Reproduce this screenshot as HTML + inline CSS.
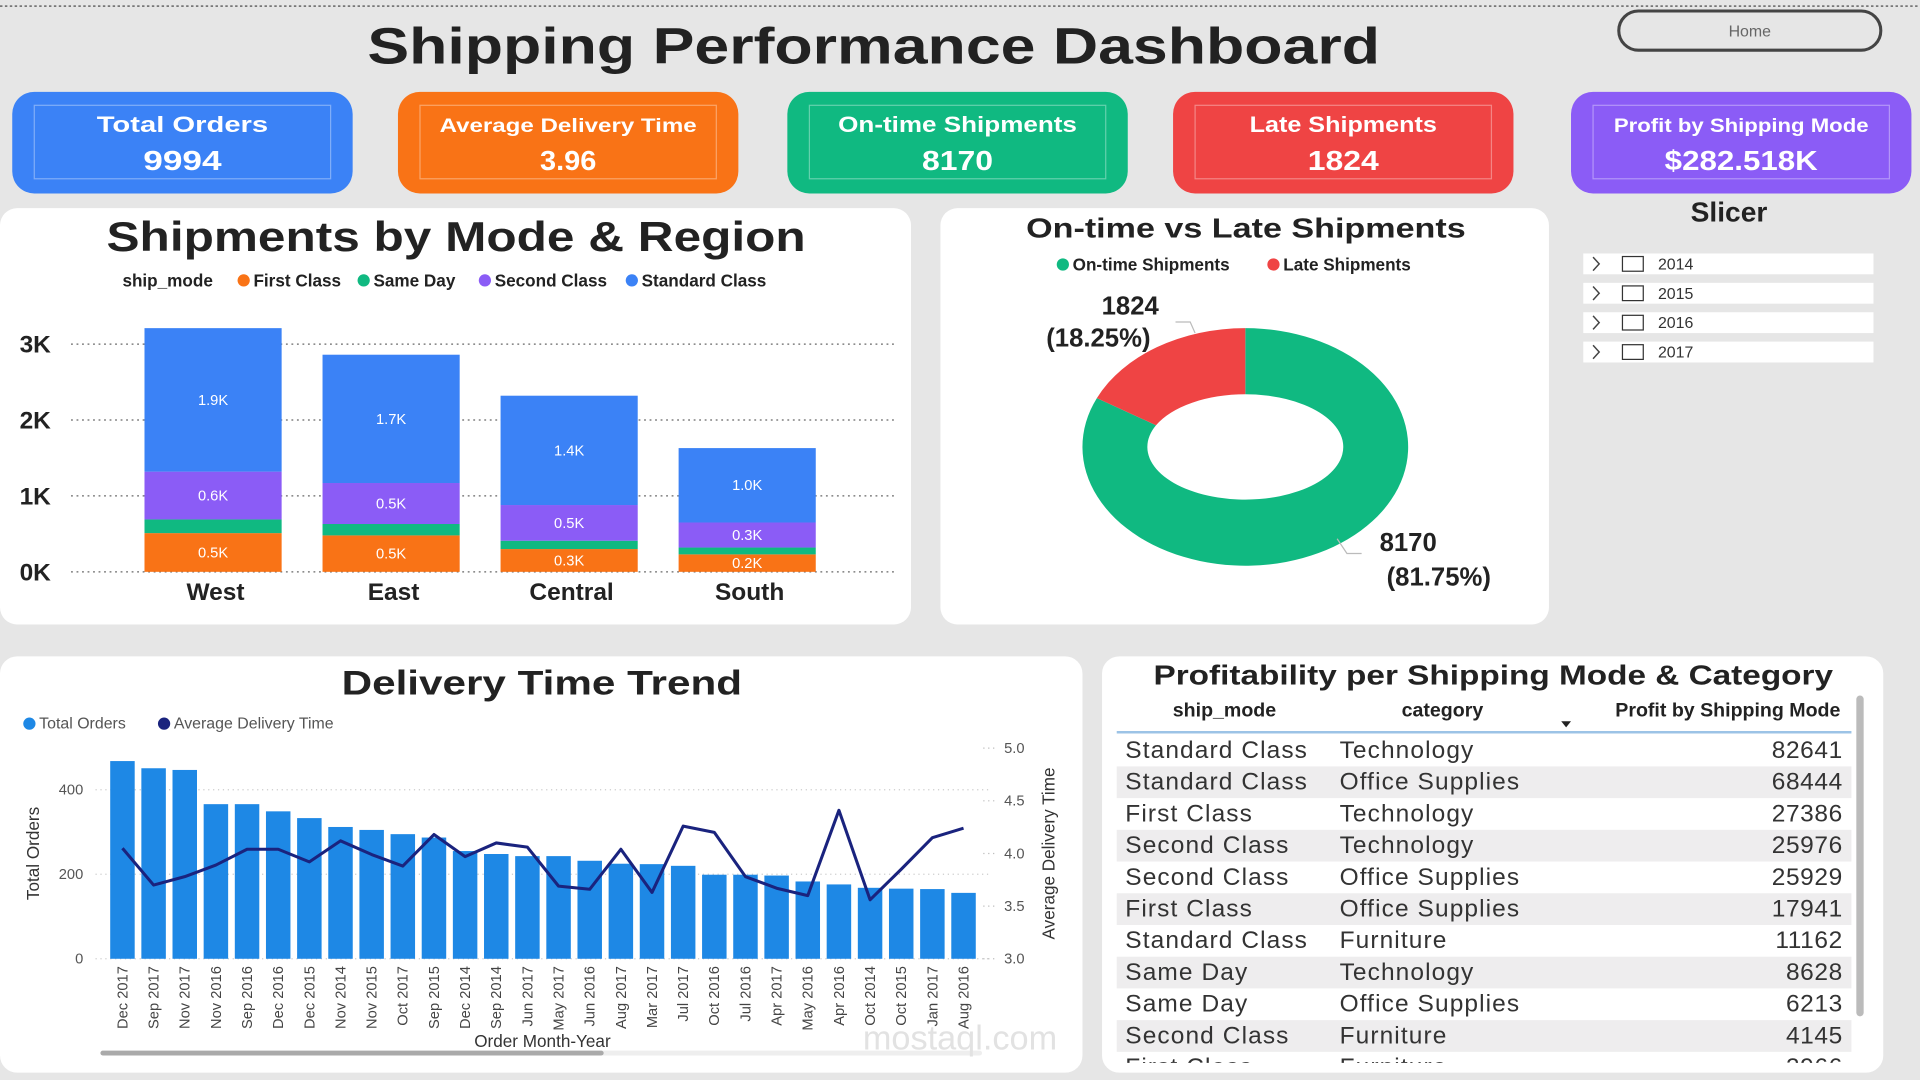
<!DOCTYPE html>
<html><head><meta charset="utf-8"><title>Shipping Performance Dashboard</title>
<style>
html,body{margin:0;padding:0;background:#e6e6e6;overflow:hidden}
svg{display:block;font-family:"Liberation Sans",sans-serif}
.b{font-weight:bold}
</style></head>
<body>
<svg id="root" width="1920" height="1080" viewBox="0 0 1568 882" xmlns="http://www.w3.org/2000/svg">
<rect x="0" y="0" width="1568" height="882" fill="#e6e6e6"/>
<line x1="0" y1="5" x2="1568" y2="5" stroke="#777" stroke-width="1.5" stroke-dasharray="2,2"/>
<text x="300" y="52" textLength="827" lengthAdjust="spacingAndGlyphs" font-size="42" font-weight="bold" fill="#222">Shipping Performance Dashboard</text>
<g>
<rect x="1322" y="9" width="214" height="32" rx="16" fill="none" stroke="#444" stroke-width="2.5"/>
<text x="1429" y="30" text-anchor="middle" font-size="13" fill="#666">Home</text>
</g>
<g id="kpis"></g>
<rect x="0" y="170" width="744" height="340" rx="14" fill="#fff"/>
<rect x="768" y="170" width="497" height="340" rx="14" fill="#fff"/>
<rect x="0" y="536" width="884" height="340" rx="14" fill="#fff"/>
<rect x="900" y="536" width="638" height="340" rx="14" fill="#fff"/>

<text x="87" y="205" textLength="571" lengthAdjust="spacingAndGlyphs" font-size="34" class="b" fill="#222">Shipments by Mode &amp; Region</text>
<g id="legend1" font-size="14" class="b" fill="#222">
<text x="100" y="234">ship_mode</text>
<circle cx="199" cy="229" r="5" fill="#f97316"/><text x="207" y="234">First Class</text>
<circle cx="297" cy="229" r="5" fill="#10b981"/><text x="305" y="234">Same Day</text>
<circle cx="396" cy="229" r="5" fill="#8b5cf6"/><text x="404" y="234">Second Class</text>
<circle cx="516" cy="229" r="5" fill="#3b82f6"/><text x="524" y="234">Standard Class</text>
</g>
<g id="bars1"></g>

<text x="838" y="194" textLength="359" lengthAdjust="spacingAndGlyphs" font-size="23" class="b" fill="#222">On-time vs Late Shipments</text>
<g font-size="14" class="b" fill="#222">
<circle cx="868" cy="216" r="5" fill="#10b981"/><text x="876" y="221">On-time Shipments</text>
<circle cx="1040" cy="216" r="5" fill="#ef4444"/><text x="1048" y="221">Late Shipments</text>
</g>
<g id="donut"></g>

<text x="1412" y="181" text-anchor="middle" font-size="23" class="b" fill="#222">Slicer</text>
<g id="slicer"></g>

<text x="279" y="567" textLength="327" lengthAdjust="spacingAndGlyphs" font-size="28" class="b" fill="#222">Delivery Time Trend</text>
<g font-size="13" fill="#555">
<circle cx="24" cy="591" r="5" fill="#1e88e5"/><text x="32" y="595">Total Orders</text>
<circle cx="134" cy="591" r="5" fill="#1a237e"/><text x="142" y="595">Average Delivery Time</text>
</g>
<g id="trend"></g>
<text x="443" y="855" text-anchor="middle" font-size="14" fill="#333">Order Month-Year</text>
<text transform="translate(32,697) rotate(-90)" text-anchor="middle" font-size="14" fill="#333">Total Orders</text>
<text transform="translate(861,697) rotate(-90)" text-anchor="middle" font-size="14" fill="#333">Average Delivery Time</text>
<rect x="82" y="858" width="720" height="4" rx="2" fill="#eee"/>
<rect x="82" y="858" width="411" height="4" rx="2" fill="#aaa"/>
<text x="784" y="857" text-anchor="middle" font-size="28" fill="#e2e2e2">mostaql.com</text>

<text x="942" y="559" textLength="555" lengthAdjust="spacingAndGlyphs" font-size="23" class="b" fill="#222">Profitability per Shipping Mode &amp; Category</text>
<g font-size="16" class="b" fill="#222">
<text x="1000" y="585" text-anchor="middle">ship_mode</text>
<text x="1178" y="585" text-anchor="middle">category</text>
<text x="1503" y="585" text-anchor="end">Profit by Shipping Mode</text>
<path d="M1275,589 l8,0 l-4,5z" fill="#222"/>
</g>
<line x1="912" y1="598" x2="1512" y2="598" stroke="#9cc3e6" stroke-width="2"/>
<g id="table"></g>
<rect x="1516" y="568" width="6" height="262" rx="3" fill="#bbb"/>
</svg>
<script>
var NS="http://www.w3.org/2000/svg";
function mk(p,tag,a,txt){var e=document.createElementNS(NS,tag);for(var k in a)e.setAttribute(k,a[k]);if(txt!=null)e.textContent=txt;p.appendChild(e);return e;}

var kpiLabels=["Total Orders","Average Delivery Time","On-time Shipments","Late Shipments","Profit by Shipping Mode"];
var kpiValues=["9994","3.96","8170","1824","$282.518K"];
var kpiColors=["#3b82f6","#f97316","#10b981","#ef4444","#8b5cf6"];
var kpiX=[10,325,643,958,1283];
var kpiLabelW=[140,210,195,153,208];
var kpiValueW=[64,46,58,58,125];
var kg=document.getElementById('kpis');
for(var i=0;i<5;i++){
  var g=mk(kg,'g',{});
  
  
  mk(g,'rect',{x:kpiX[i],y:75,width:278,height:83,rx:18,fill:kpiColors[i]});
  mk(g,'rect',{x:kpiX[i]+18,y:86,width:242,height:60,fill:'none',stroke:'rgba(255,255,255,0.35)','stroke-width':1});
  var fs=kpiLabels[i].length>18?16:18;
  mk(g,'text',{x:kpiX[i]+139-kpiLabelW[i]/2,y:108,textLength:kpiLabelW[i],lengthAdjust:'spacingAndGlyphs','font-size':fs,'font-weight':'bold',fill:'#fff'},kpiLabels[i]);
  mk(g,'text',{x:kpiX[i]+139-kpiValueW[i]/2,y:139,textLength:kpiValueW[i],lengthAdjust:'spacingAndGlyphs','font-size':23,'font-weight':'bold',fill:'#fff'},kpiValues[i]);
}

var regions=["West","East","Central","South"];
var firstClass=[0.51,0.48,0.30,0.23];
var sameDay=[0.18,0.15,0.11,0.09];
var secondClass=[0.63,0.54,0.47,0.33];
var standardClass=[1.89,1.69,1.44,0.98];
var yTicks1=[0,1,2,3];
var series1=[firstClass,sameDay,secondClass,standardClass];
var seriesNames1=["first-class","same-day","second-class","standard-class"];
var colors1=["#f97316","#10b981","#8b5cf6","#3b82f6"];
var showLabel1=[true,false,true,true];
function y1(v){return 467-v*62;}
function x1(i){return 174+i*145.4;}
var bg=document.getElementById('bars1');
yTicks1.forEach(function(t){
  var l=mk(bg,'line',{x1:58,x2:730,y1:y1(t),y2:y1(t),stroke:'#666','stroke-dasharray':'1.5,3','stroke-width':1});
  
  
  var tx=mk(bg,'text',{x:16,y:y1(t)+7,'font-size':20,'font-weight':'bold',fill:'#222'},t+'K');
  
  
});
regions.forEach(function(r,i){
  var base=0;
  series1.forEach(function(s,j){
    var v=s[i];
    var rc=mk(bg,'rect',{x:x1(i)-56,y:y1(base+v),width:112,height:v*62,fill:colors1[j]});
    
    
    if(showLabel1[j]){
      var lt=mk(bg,'text',{x:x1(i),y:y1(base+v/2)+4,'text-anchor':'middle','font-size':12,fill:'#fff'},v.toFixed(1)+'K');
      
      
    }
    base+=v;
  });
  var cl=mk(bg,'text',{x:x1(i)+2,y:490,'text-anchor':'middle','font-size':20,'font-weight':'bold',fill:'#222'},r);
  
  
});

var donutLabels=["On-time Shipments","Late Shipments"];
var donutValues=[8170,1824];
var donutColors=["#10b981","#ef4444"];
var dg=document.getElementById('donut');
var cx=1017,cy=365,RX=133,RY=97,rx0=80,ry0=43;
var total=donutValues[0]+donutValues[1];
function pt(a,rx,ry){return [cx+rx*Math.sin(a),cy-ry*Math.cos(a)];}
function arc(a0,a1){var p0=pt(a0,RX,RY),p1=pt(a1,RX,RY),q1=pt(a1,rx0,ry0),q0=pt(a0,rx0,ry0);var lg=(a1-a0)>Math.PI?1:0;
 return 'M'+p0+' A'+RX+','+RY+' 0 '+lg+' 1 '+p1+' L'+q1+' A'+rx0+','+ry0+' 0 '+lg+' 0 '+q0+' Z';}
var onA=donutValues[0]/total*2*Math.PI;
var s1=mk(dg,'path',{d:arc(0,onA),fill:donutColors[0]});


var s2=mk(dg,'path',{d:arc(onA,2*Math.PI),fill:donutColors[1]});


var pctLate=(donutValues[1]/total*100).toFixed(2), pctOn=(donutValues[0]/total*100).toFixed(2);
var t1=mk(dg,'text',{x:923,y:257,'text-anchor':'middle','font-size':21,'font-weight':'bold',fill:'#222'},String(donutValues[1]));


var t2=mk(dg,'text',{x:897,y:283,'text-anchor':'middle','font-size':21,'font-weight':'bold',fill:'#222'},'('+pctLate+'%)');


mk(dg,'path',{d:'M960,263 L972,263 L976,272',fill:'none',stroke:'#bbb'});
var t3=mk(dg,'text',{x:1150,y:450,'text-anchor':'middle','font-size':21,'font-weight':'bold',fill:'#222'},String(donutValues[0]));


var t4=mk(dg,'text',{x:1175,y:478,'text-anchor':'middle','font-size':21,'font-weight':'bold',fill:'#222'},'('+pctOn+'%)');


mk(dg,'path',{d:'M1092,440 L1100,452 L1112,452',fill:'none',stroke:'#bbb'});

var years=["2014","2015","2016","2017"];
var sg=document.getElementById('slicer');
years.forEach(function(y,i){
  var yy=207+i*24;
  var g=mk(sg,'g',{});
  
  
  mk(g,'rect',{x:1293,y:yy,width:237,height:17,fill:'#fff'});
  mk(g,'path',{d:'M1301,'+(yy+3)+' l5,5.5 l-5,5.5',fill:'none',stroke:'#444','stroke-width':1.2});
  mk(g,'rect',{x:1325,y:yy+2.5,width:17,height:12,fill:'#fff',stroke:'#333','stroke-width':1});
  mk(g,'text',{x:1354,y:yy+13,'font-size':13,fill:'#333'},y);
});

var months=["Dec 2017","Sep 2017","Nov 2017","Nov 2016","Sep 2016","Dec 2016","Dec 2015","Nov 2014","Nov 2015","Oct 2017","Sep 2015","Dec 2014","Sep 2014","Jun 2017","May 2017","Jun 2016","Aug 2017","Mar 2017","Jul 2017","Oct 2016","Jul 2016","Apr 2017","May 2016","Apr 2016","Oct 2014","Oct 2015","Jan 2017","Aug 2016"];
var totalOrders=[468,451,447,366,366,349,333,312,305,295,287,255,248,243,243,232,225,224,220,199,199,197,183,176,168,166,165,156];
var avgDelivery=[4.05,3.70,3.78,3.89,4.04,4.04,3.92,4.12,3.99,3.88,4.18,3.97,4.10,4.06,3.69,3.66,4.04,3.63,4.26,4.20,3.78,3.67,3.60,4.41,3.56,3.85,4.15,4.24];
var leftTicks=[0,200,400];
var rightTicks=["3.0","3.5","4.0","4.5","5.0"];
function yL(v){return 783-v*(138/400);}
function yR(v){return 783-(v-3)*86;}
function xT(i){return 100+i*25.44;}
var tg=document.getElementById('trend');
leftTicks.forEach(function(t){
  var l=mk(tg,'line',{x1:78,x2:808,y1:yL(t),y2:yL(t),stroke:'#ccc','stroke-dasharray':'1,3'});
  
  
  var tx=mk(tg,'text',{x:68,y:yL(t)+4,'text-anchor':'end','font-size':12,fill:'#555'},String(t));
  
  
});
rightTicks.forEach(function(t){
  var v=parseFloat(t);
  mk(tg,'line',{x1:803,x2:812,y1:yR(v),y2:yR(v),stroke:'#bbb','stroke-dasharray':'1,3'});
  var tx=mk(tg,'text',{x:820,y:yR(v)+4,'font-size':12,fill:'#555'},t);
  
  
});
months.forEach(function(m,i){
  var b=mk(tg,'rect',{x:xT(i)-10,y:yL(totalOrders[i]),width:20,height:783-yL(totalOrders[i]),fill:'#1e88e5'});
  
  
  var tx=mk(tg,'text',{transform:'translate('+(xT(i)+4)+',789) rotate(-90)','text-anchor':'end','font-size':12,fill:'#444'},m);
  
  
});
var pts=avgDelivery.map(function(v,i){return xT(i)+','+yR(v);}).join(' ');
var pl=mk(tg,'polyline',{points:pts,fill:'none',stroke:'#1a237e','stroke-width':2.5,'stroke-linejoin':'round'});



var shipModes=["Standard Class","Standard Class","First Class","Second Class","Second Class","First Class","Standard Class","Same Day","Same Day","Second Class","First Class"];
var categories=["Technology","Office Supplies","Technology","Technology","Office Supplies","Office Supplies","Furniture","Technology","Office Supplies","Furniture","Furniture"];
var profits=[82641,68444,27386,25976,25929,17941,11162,8628,6213,4145,3966];
var tb=document.getElementById('table');
var clip=mk(tb,'clipPath',{id:'tclip'});
mk(clip,'rect',{x:905,y:599,width:610,height:269});
var tg2=mk(tb,'g',{'clip-path':'url(#tclip)'});
shipModes.forEach(function(s,i){
  var y=600+i*25.9;
  var g=mk(tg2,'g',{});
  
  
  if(i%2==1) mk(g,'rect',{x:912,y:y,width:600,height:25.9,fill:'#eeedee'});
  mk(g,'text',{x:919,y:y+19,'font-size':20,'letter-spacing':'0.9',fill:'#333'},s);
  mk(g,'text',{x:1094,y:y+19,'font-size':20,'letter-spacing':'0.9',fill:'#333'},categories[i]);
  mk(g,'text',{x:1505,y:y+19,'text-anchor':'end','font-size':20,'letter-spacing':'0.5',fill:'#333'},String(profits[i]));
});
</script>
</body></html>
